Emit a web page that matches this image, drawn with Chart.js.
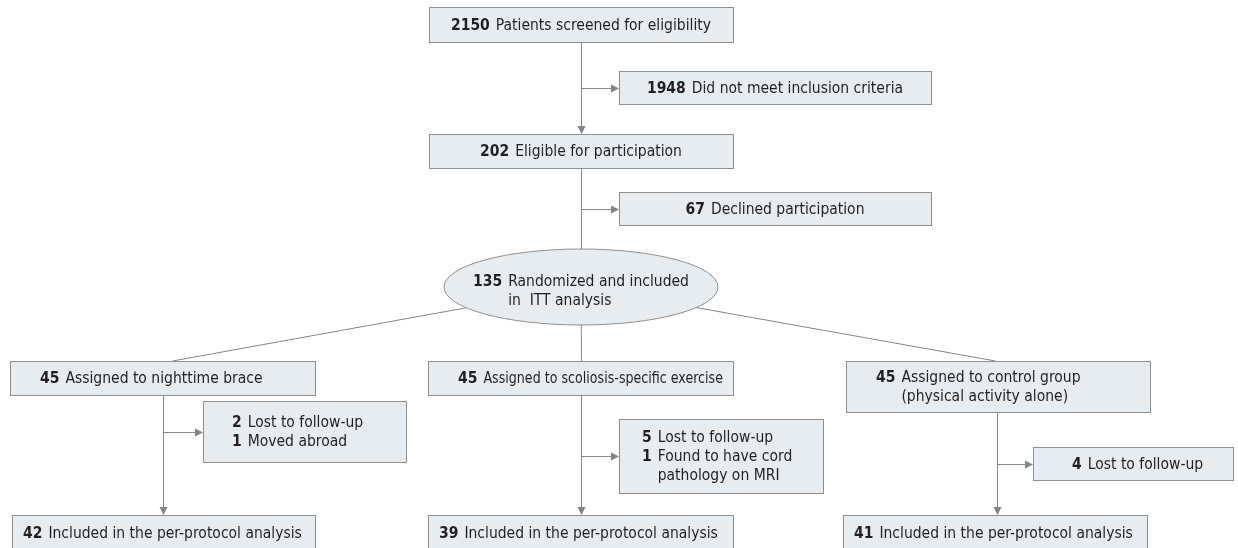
<!DOCTYPE html>
<html>
<head>
<meta charset="utf-8">
<title>Study flow diagram</title>
<script src="https://cdn.jsdelivr.net/npm/chart.js@4.4.1/dist/chart.umd.min.js"></script>
<style>
  html, body { margin: 0; padding: 0; background: #fff; }
  #wrap { width: 1238px; height: 548px; }
</style>
</head>
<body>
<div id="wrap"><canvas id="flow" width="1238" height="548"></canvas></div>
<script>
// main column: screened -> eligible -> randomized
const stepCounts = [2150, 202, 135];
const stepLabels = ["Patients screened for eligibility", "Eligible for participation", "Randomized and included\nin  ITT analysis"];

// side exclusions off the main column
const excludedCounts = [1948, 67];
const excludedLabels = ["Did not meet inclusion criteria", "Declined participation"];

// the three arms
const armCounts = [45, 45, 45];
const armLabels = ["Assigned to nighttime brace", "Assigned to scoliosis-specific exercise", "Assigned to control group\n(physical activity alone)"];
const lostCounts = [[2, 1], [5, 1], [4]];
const lostLabels = [["Lost to follow-up", "Moved abroad"], ["Lost to follow-up", "Found to have cord\npathology on MRI"], ["Lost to follow-up"]];
const analyzedCounts = [42, 39, 41];
const analyzedLabels = ["Included in the per-protocol analysis", "Included in the per-protocol analysis", "Included in the per-protocol analysis"];

// where the nodes sit, in axis units (x 0..1238, y 0..548 from the top)
const layout = {
  mainX: 581,
  steps: [
    { x: 429, y: 7, w: 304, h: 35 },
    { x: 429, y: 134, w: 304, h: 34 },
    { cx: 581, cy: 287, rx: 137, ry: 38 }
  ],
  excluded: [
    { x: 619, y: 71, w: 312, h: 33 },
    { x: 619, y: 192, w: 312, h: 33 }
  ],
  arms: [
    { x: 10, y: 361, w: 305, h: 34, stem: 163, fanTo: 172 },
    { x: 428, y: 361, w: 305, h: 34, stem: 581, fanTo: 581 },
    { x: 846, y: 361, w: 304, h: 51, stem: 997, fanTo: 995 }
  ],
  lost: [
    { x: 203, y: 401, w: 203, h: 61, pad: 29 },
    { x: 619, y: 419, w: 204, h: 74, pad: 23 },
    { x: 1033, y: 447, w: 200, h: 33, pad: 39 }
  ],
  analyzed: [
    { x: 12, y: 515, w: 303, h: 36 },
    { x: 428, y: 515, w: 305, h: 36 },
    { x: 843, y: 515, w: 304, h: 36 }
  ]
};

const FONT = '"Liberation Sans Narrow", "DejaVu Sans Condensed", sans-serif';
const FONT_SIZE = 15.5;
const LINE_H = 19;
const GAP = 6;
const BOX_FILL = "#e6ecf0";
const BOX_LINE = "#8e8e8e";
const LINK = "#858585";
const INK = "#231f20";

// turn count/label pairs into text rows, number only on the first line
function rowsFor(counts, labels) {
  const rows = [];
  counts.forEach((c, i) => {
    labels[i].split("\n").forEach((t, j) => rows.push({ num: j === 0 ? String(c) : "", text: t }));
  });
  return rows;
}

const flowPlugin = {
  id: "flowDiagram",
  afterDraw(chart) {
    const ctx = chart.ctx;
    const sx = chart.scales.x, sy = chart.scales.y;
    const X = v => sx.getPixelForValue(v);
    const Y = v => sy.getPixelForValue(v);
    const px = b => ({ x0: X(b.x), y0: Y(b.y), x1: X(b.x + b.w), y1: Y(b.y + b.h) });

    const line = (x0, y0, x1, y1) => {
      ctx.beginPath();
      ctx.moveTo(x0, y0);
      ctx.lineTo(x1, y1);
      ctx.stroke();
    };
    // small filled head, tip at (x, y)
    const head = (x, y, dir) => {
      ctx.beginPath();
      if (dir === "down") {
        ctx.moveTo(x, y); ctx.lineTo(x - 4, y - 8); ctx.lineTo(x + 4, y - 8);
      } else {
        ctx.moveTo(x, y); ctx.lineTo(x - 8, y - 4); ctx.lineTo(x - 8, y + 4);
      }
      ctx.closePath();
      ctx.fill();
    };
    const arrowDown = (x, y0, y1) => { line(x, y0, x, y1 - 6); head(x, y1, "down"); };
    const arrowRight = (x0, x1, y) => { line(x0, y, x1 - 6, y); head(x1, y, "right"); };

    const rect = b => {
      const r = px(b);
      ctx.fillStyle = BOX_FILL;
      ctx.fillRect(r.x0, r.y0, r.x1 - r.x0, r.y1 - r.y0);
      ctx.strokeStyle = BOX_LINE;
      ctx.lineWidth = 1;
      ctx.strokeRect(Math.round(r.x0) + 0.5, Math.round(r.y0) + 0.5, Math.round(r.x1 - r.x0), Math.round(r.y1 - r.y0));
      return r;
    };

    // rows of "number  text", block either centred or padded from the left
    const text = (rows, r, mode, pad, dy) => {
      ctx.textBaseline = "middle";
      ctx.font = "bold " + FONT_SIZE + "px " + FONT;
      const numW = Math.max(...rows.map(o => ctx.measureText(o.num).width));
      ctx.font = FONT_SIZE + "px " + FONT;
      const txtW = Math.max(...rows.map(o => ctx.measureText(o.text).width));
      const blockW = numW + GAP + txtW;
      const left = mode === "center" ? (r.x0 + r.x1) / 2 - blockW / 2 : r.x0 + pad;
      const cy = (r.y0 + r.y1) / 2 + (dy || 0);
      // keep long labels inside their box
      const room = r.x1 - 10 - (left + numW + GAP);
      rows.forEach((o, i) => {
        const y = cy + (i - (rows.length - 1) / 2) * LINE_H + 1;
        ctx.fillStyle = INK;
        ctx.textAlign = "right";
        ctx.font = "bold " + FONT_SIZE + "px " + FONT;
        ctx.fillText(o.num, left + numW, y);
        ctx.textAlign = "left";
        ctx.font = FONT_SIZE + "px " + FONT;
        ctx.fillText(o.text, left + numW + GAP, y, room);
      });
    };

    ctx.save();
    const mx = Math.round(X(layout.mainX)) + 0.5;
    const s = layout.steps, ex = layout.excluded;
    const ell = s[2];

    // connectors
    ctx.strokeStyle = LINK;
    ctx.fillStyle = LINK;
    ctx.lineWidth = 1;
    arrowDown(mx, Y(s[0].y + s[0].h), Y(s[1].y));
    arrowRight(mx, X(ex[0].x), Math.round(Y(ex[0].y + ex[0].h / 2)) + 0.5);
    line(mx, Y(s[1].y + s[1].h), mx, Y(ell.cy));
    arrowRight(mx, X(ex[1].x), Math.round(Y(ex[1].y + ex[1].h / 2)) + 0.5);

    layout.arms.forEach((a, i) => {
      ctx.strokeStyle = LINK;
      ctx.fillStyle = LINK;
      line(X(ell.cx), Y(ell.cy), Math.round(X(a.fanTo)) + 0.5, Y(a.y));
      const stem = Math.round(X(a.stem)) + 0.5;
      const lb = layout.lost[i];
      arrowDown(stem, Y(a.y + a.h), Y(layout.analyzed[i].y));
      arrowRight(stem, X(lb.x), Math.round(Y(lb.y + lb.h / 2)) + 0.5);
    });

    // main column boxes
    text(rowsFor([stepCounts[0]], [stepLabels[0]]), rect(s[0]), "center");
    text(rowsFor([stepCounts[1]], [stepLabels[1]]), rect(s[1]), "center");
    excludedCounts.forEach((c, i) => text(rowsFor([c], [excludedLabels[i]]), rect(ex[i]), "center"));

    // randomization ellipse
    ctx.beginPath();
    ctx.ellipse(X(ell.cx), Y(ell.cy), Math.abs(X(ell.cx + ell.rx) - X(ell.cx)), Math.abs(Y(ell.cy + ell.ry) - Y(ell.cy)), 0, 0, Math.PI * 2);
    ctx.fillStyle = BOX_FILL;
    ctx.fill();
    ctx.strokeStyle = BOX_LINE;
    ctx.stroke();
    const er = { x0: X(ell.cx - ell.rx), x1: X(ell.cx + ell.rx), y0: Y(ell.cy - ell.ry), y1: Y(ell.cy + ell.ry) };
    text(rowsFor([stepCounts[2]], [stepLabels[2]]), er, "center", 0, 3);

    // arms
    layout.arms.forEach((a, i) => {
      const lb = layout.lost[i];
      text(rowsFor([armCounts[i]], [armLabels[i]]), rect(a), "left", 30);
      text(rowsFor(lostCounts[i], lostLabels[i]), rect(lb), "left", lb.pad);
      text(rowsFor([analyzedCounts[i]], [analyzedLabels[i]]), rect(layout.analyzed[i]), "left", 11);
    });
    ctx.restore();
  }
};

// node centres as an invisible dataset so the scales carry the layout
const centres = [
  ...layout.steps.slice(0, 2).map(b => ({ x: b.x + b.w / 2, y: b.y + b.h / 2 })),
  { x: layout.steps[2].cx, y: layout.steps[2].cy },
  ...layout.arms.map(b => ({ x: b.x + b.w / 2, y: b.y + b.h / 2 }))
];

new Chart(document.getElementById("flow"), {
  type: "scatter",
  data: { datasets: [{ data: centres, pointRadius: 0 }] },
  options: {
    responsive: false,
    animation: false,
    layout: { padding: 0 },
    scales: {
      x: { type: "linear", min: 0, max: 1238, display: false },
      y: { type: "linear", min: 0, max: 548, reverse: true, display: false }
    },
    plugins: { legend: { display: false }, tooltip: { enabled: false } }
  },
  plugins: [flowPlugin]
});
</script>
</body>
</html>
